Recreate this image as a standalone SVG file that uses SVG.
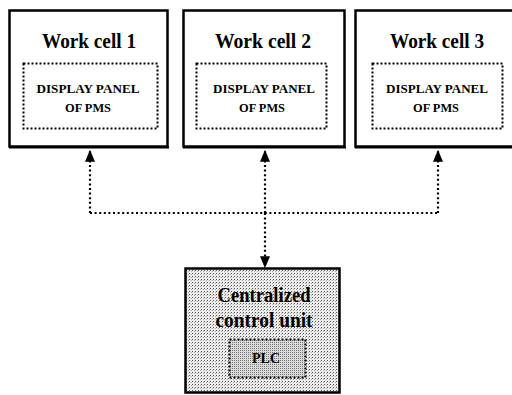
<svg xmlns="http://www.w3.org/2000/svg" width="512" height="395" viewBox="0 0 512 395">
  <defs>
    <style>
      .cell { fill: #ffffff; stroke: #000; stroke-width: 2.5; }
      .inner { fill: none; stroke: #000; stroke-width: 2; stroke-dasharray: 2 2; }
      text { font-family: 'Liberation Serif', 'DejaVu Serif', serif; font-weight: bold; text-anchor: middle; fill: #000; }
      .title { font-size: 20px; }
      .small { font-size: 12px; }
      .conn { fill: none; stroke: #000; stroke-width: 2.2; stroke-dasharray: 2 2.6; }
      .base { stroke: #000; stroke-width: 2; }
    </style>
    <pattern id="stip" width="3" height="3" patternUnits="userSpaceOnUse">
      <rect width="3" height="3" fill="#ececec"/>
      <rect x="0" y="0" width="1" height="1" fill="#555"/>
      <rect x="2" y="1" width="1" height="1" fill="#aaa"/>
    </pattern>
    <pattern id="stip2" width="2" height="2" patternUnits="userSpaceOnUse">
      <rect width="2" height="2" fill="#dadada"/>
      <rect x="0" y="0" width="1" height="1" fill="#777"/>
    </pattern>
    <marker id="arr" viewBox="0 0 10 10" refX="9" refY="5" markerWidth="12" markerHeight="10" orient="auto" markerUnits="userSpaceOnUse" preserveAspectRatio="none">
      <path d="M0,0 L10,5 L0,10 Z" fill="#000"/>
    </marker>
  </defs>

  <rect width="512" height="395" fill="#ffffff"/>

  <g id="workcell1">
    <rect class="cell" x="9.5" y="10.5" width="158" height="136"/>
    <line class="base" x1="9" y1="147.5" x2="169" y2="147.5"/>
    <text class="title" x="89" y="48" textLength="94" lengthAdjust="spacingAndGlyphs">Work cell 1</text>
    <rect class="inner" x="23.5" y="63.5" width="134" height="65"/>
    <text class="small" x="88" y="93" textLength="103" lengthAdjust="spacingAndGlyphs">DISPLAY PANEL</text>
    <text class="small" x="88" y="112" textLength="46" lengthAdjust="spacingAndGlyphs">OF PMS</text>
  </g>

  <g id="workcell2">
    <rect class="cell" x="183.5" y="10.5" width="161" height="136"/>
    <line class="base" x1="183" y1="147.5" x2="346" y2="147.5"/>
    <text class="title" x="263" y="48" textLength="96" lengthAdjust="spacingAndGlyphs">Work cell 2</text>
    <rect class="inner" x="196.5" y="63.5" width="130" height="65"/>
    <text class="small" x="264" y="93" textLength="102" lengthAdjust="spacingAndGlyphs">DISPLAY PANEL</text>
    <text class="small" x="262" y="112" textLength="46" lengthAdjust="spacingAndGlyphs">OF PMS</text>
  </g>

  <g id="workcell3">
    <rect class="cell" x="355.5" y="10.5" width="164" height="136"/>
    <line class="base" x1="355" y1="147.5" x2="512" y2="147.5"/>
    <text class="title" x="437" y="48" textLength="94" lengthAdjust="spacingAndGlyphs">Work cell 3</text>
    <rect class="inner" x="372.5" y="63.5" width="130" height="65"/>
    <text class="small" x="437" y="93" textLength="102" lengthAdjust="spacingAndGlyphs">DISPLAY PANEL</text>
    <text class="small" x="436" y="112" textLength="46" lengthAdjust="spacingAndGlyphs">OF PMS</text>
  </g>

  <g id="central">
    <rect x="185.5" y="268.5" width="154" height="124" fill="url(#stip)" stroke="#000" stroke-width="2.5"/>
    <text class="title" x="264" y="302" textLength="93" lengthAdjust="spacingAndGlyphs">Centralized</text>
    <text class="title" x="264" y="327" textLength="97" lengthAdjust="spacingAndGlyphs">control unit</text>
    <rect x="229.5" y="339.5" width="76" height="38" fill="url(#stip2)" stroke="#000" stroke-width="2" stroke-dasharray="2 2"/>
    <text x="266" y="363" textLength="28" lengthAdjust="spacingAndGlyphs" style="font-size:14px">PLC</text>
  </g>

  <g id="connectors">
    <line class="conn" x1="90" y1="213" x2="438" y2="213"/>
    <line class="conn" x1="90" y1="213" x2="90" y2="151" marker-end="url(#arr)"/>
    <line class="conn" x1="438" y1="213" x2="438" y2="151" marker-end="url(#arr)"/>
    <line class="conn" x1="265" y1="213" x2="265" y2="151" marker-end="url(#arr)"/>
    <line class="conn" x1="265" y1="213" x2="265" y2="267" marker-end="url(#arr)"/>
  </g>
</svg>
